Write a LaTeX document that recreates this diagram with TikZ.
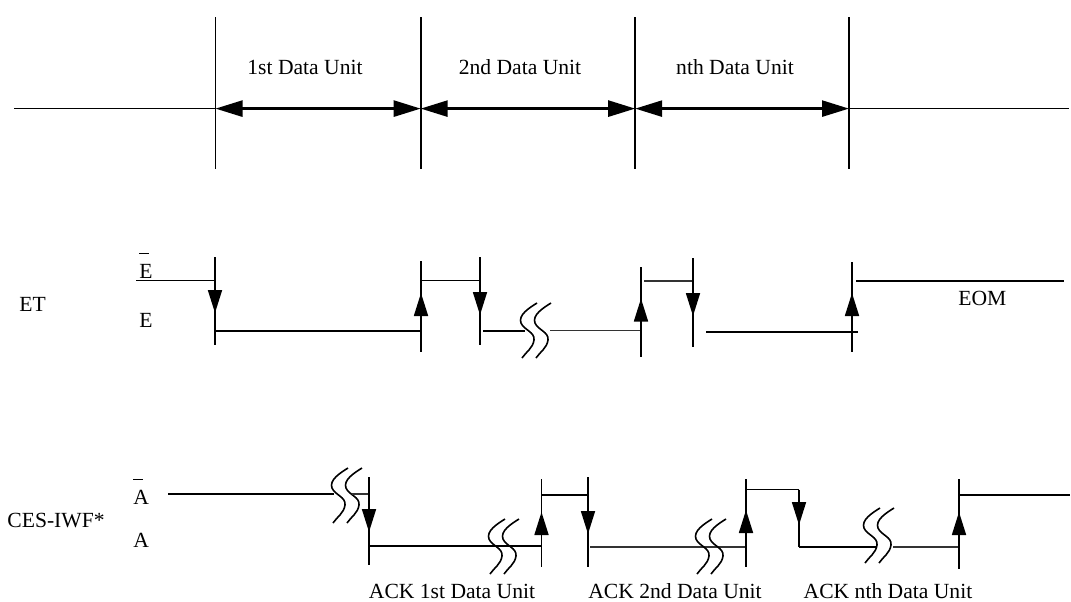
\documentclass[tikz,border=0pt]{standalone}
\usepackage{fontspec}
\setmainfont{Liberation Serif}
\usetikzlibrary{arrows.meta}
\newcommand{\ovbar}[1]{\leavevmode\rlap{\raisebox{1.15em}{\rule{0.45em}{0.5pt}}}#1}
\begin{document}
\begin{tikzpicture}[x=0.5pt,y=-0.5pt,font=\fontsize{10.8}{13}\selectfont]

\tikzset{sig/.style = {line width=0.85pt}}
\tikzset{thin/.style = {line width=0.6pt,black!80}}
\tikzset{arr/.style = {-{Triangle[length=11.5pt,width=7pt]},line width=0.85pt}}
\tikzset{dimline/.style = {{Triangle[length=13.5pt,width=8pt]}-{Triangle[length=13.5pt,width=8pt]},line width=1.3pt}}
\tikzset{lbl/.style = {inner sep=0pt}}
\tikzset{brk/.pic = {
  \foreach \d in {0,14}
    \draw[line width=0.8pt] (9+\d,-27) .. controls (1+\d,-22) and (-10+\d,-15) .. (-7+\d,-7)
      .. controls (-4+\d,0) and (7+\d,2) .. (6+\d,10) .. controls (5+\d,18) and (-2+\d,22) .. (-6+\d,28);
}}

\useasboundingbox (0,0) rectangle (1071,601);

% data units
\coordinate (t0) at (14,108.6);
\coordinate (t1) at (215.5,108.6);
\coordinate (t2) at (420.7,108.6);
\coordinate (t3) at (635.2,108.6);
\coordinate (t4) at (849,108.6);
\coordinate (t5) at (1069,108.6);
\foreach \x in {215.5,420.7,635.2,849}
  \draw[sig] (\x,17) -- (\x,169);
\draw[sig] (t0) -- (t1);
\draw[sig] (t4) -- (t5);
\draw[dimline] (t1) -- (t2);
\draw[dimline] (t2) -- (t3);
\draw[dimline] (t3) -- (t4);
\node (u1) at (305,67) {1st Data Unit};
\node (u2) at (520,67) {2nd Data Unit};
\node (un) at (735,67) {nth Data Unit};

% ET
\node[lbl,anchor=base west] (et) at (19,311) {ET};
\node[lbl,anchor=base west] (ebar) at (139,278.5) {\ovbar{E}};
\node[lbl,anchor=base west] (elow) at (139,327.5) {E};
\node[lbl,anchor=base west] (eom) at (958,305.5) {EOM};

\draw[sig] (136,280.5) -- (215,280.5);
\draw[sig] (215,257) -- (215,345);
\draw[arr] (215,290) -- (215,313);
\draw[sig] (215,331) -- (421,331);
\draw[sig] (421,261) -- (421,352);
\draw[arr] (421,317) -- (421,293);
\draw[sig] (421,280.5) -- (480,280.5);
\draw[sig] (480,257) -- (480,345);
\draw[arr] (480,292) -- (480,315);
\draw[sig] (483,331) -- (525,331);
\pic at (528,330) {brk};
\draw[thin] (550,330.5) -- (641,330.5);
\draw[sig] (641,267) -- (641,357);
\draw[arr] (641,322) -- (641,298.5);
\draw[thin] (644,281) -- (694,281);
\draw[sig] (693,258) -- (693,347);
\draw[arr] (693,292) -- (693,316);
\draw[sig] (706,332) -- (858,332);
\draw[sig] (852,262) -- (852,352);
\draw[arr] (852,317) -- (852,293);
\draw[sig] (856,281) -- (1064,281);

% CES-IWF
\node (ces) at (56,520) {CES-IWF*};
\node[lbl,anchor=base west] (abar) at (133,504.5) {\ovbar{A}};
\node[lbl,anchor=base west] (alow) at (133,547) {A};

\draw[sig] (168,494) -- (334,494);
\pic at (339,495) {brk};
\draw[thin] (352,494) -- (369,494);
\draw[sig] (369,477) -- (369,565);
\draw[arr] (369,509) -- (369,532);
\draw[sig] (369,546) -- (541.5,546);
\pic at (496,546) {brk};
\draw[sig] (541.5,479) -- (541.5,567);
\draw[arr] (541.5,534) -- (541.5,512);
\draw[sig] (541.5,495) -- (588,495);
\draw[sig] (588,477) -- (588,567);
\draw[arr] (588,511) -- (588,534);
\draw[thin] (590,547) -- (746,547);
\pic at (703,546) {brk};
\draw[sig] (746,479) -- (746,567);
\draw[arr] (746,532) -- (746,510);
\draw[sig] (746,489.5) -- (799,489.5);
\draw[sig] (799,489.5) -- (799,547);
\draw[arr] (799,503) -- (799,525);
\draw[sig] (799,547) -- (876,547);
\pic at (871,535) {brk};
\draw[thin] (893,547) -- (960,547);
\draw[sig] (959,479) -- (959,569);
\draw[arr] (959,535) -- (959,512);
\draw[sig] (959,495) -- (1070,495);

\node (ack1) at (452,591.5) {ACK 1st Data Unit};
\node (ack2) at (675,591.5) {ACK 2nd Data Unit};
\node (ackn) at (888,591.5) {ACK nth Data Unit};
\end{tikzpicture}
\end{document}
